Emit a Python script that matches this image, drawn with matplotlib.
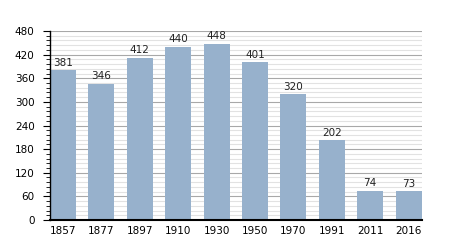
import matplotlib
matplotlib.use("Agg")
import matplotlib.pyplot as plt
from matplotlib.ticker import MultipleLocator

years = ["1857", "1877", "1897", "1910", "1930", "1950", "1970", "1991", "2011", "2016"]
pop = [381, 346, 412, 440, 448, 401, 320, 202, 74, 73]

fig = plt.figure(figsize=(4.5, 2.5), dpi=100)
ax = fig.add_axes([0.111, 0.12, 0.826, 0.756])

x = range(len(years))
ax.bar(x, pop, width=0.68, color="#97b1cc", zorder=3)
for i, v in enumerate(pop):
    ax.text(i, v + 6, str(v), ha="center", va="bottom", fontsize=7.5, color="#222222", zorder=4)

ax.set_xlim(-0.34, len(years) - 1 + 0.34)
ax.set_ylim(0, 480)
ax.set_xticks(list(x))
ax.set_xticklabels(years)
ax.yaxis.set_major_locator(MultipleLocator(60))
ax.yaxis.set_minor_locator(MultipleLocator(12))
ax.grid(axis="y", which="major", color="#a8a8a8", linewidth=0.8, zorder=1)
ax.grid(axis="y", which="minor", color="#e2e2e2", linewidth=0.8, zorder=0)

for s in ["top", "right"]:
    ax.spines[s].set_visible(False)
ax.spines["left"].set_linewidth(1.0)
ax.spines["bottom"].set_linewidth(1.5)
ax.spines["left"].set_zorder(5)
ax.spines["bottom"].set_zorder(5)
ax.tick_params(axis="y", which="major", length=5, labelsize=7.5, pad=6)
ax.tick_params(axis="y", which="minor", length=3)
ax.tick_params(axis="x", length=0, labelsize=7.5, pad=4)

fig.savefig("out.png", dpi=100)
